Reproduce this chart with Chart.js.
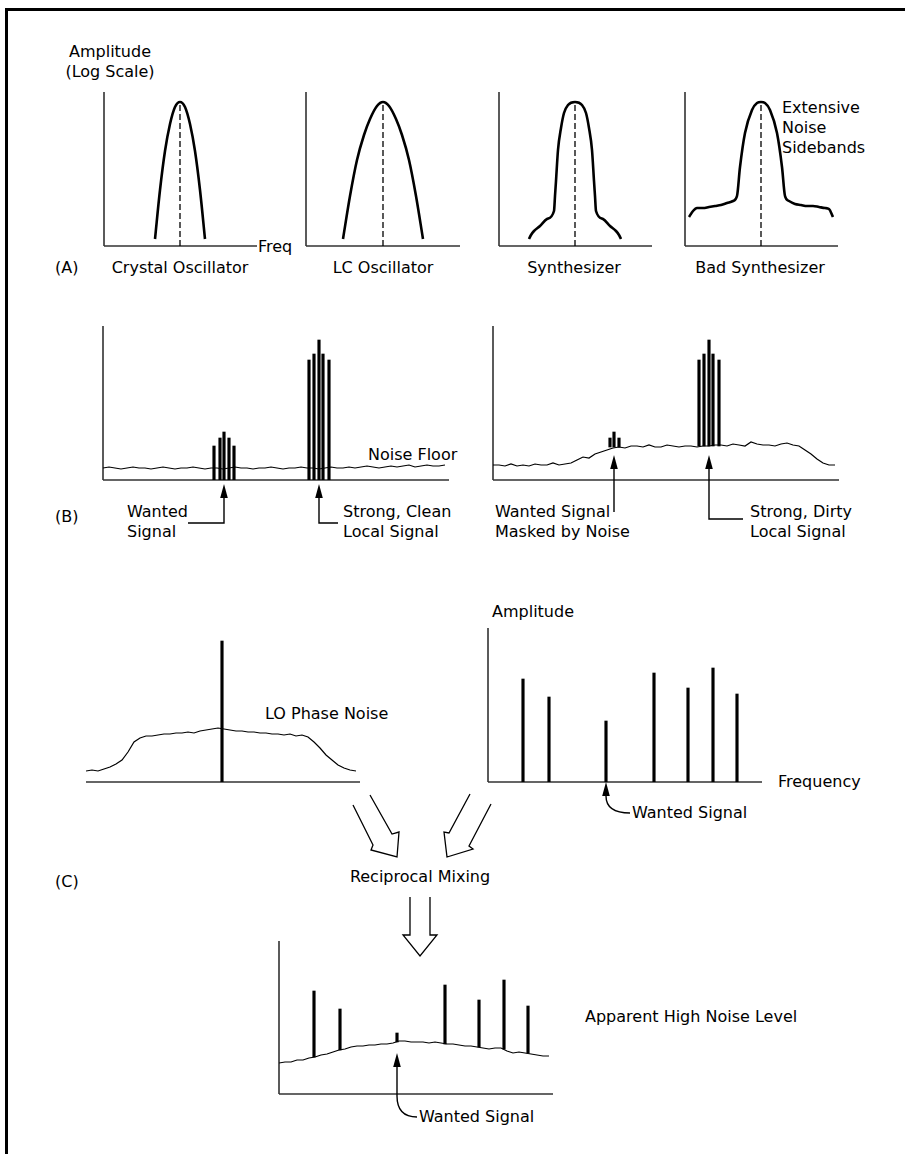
<!DOCTYPE html>
<html>
<head>
<meta charset="utf-8">
<script src="https://cdn.jsdelivr.net/npm/chart.js@4.4.0/dist/chart.umd.min.js"></script>
<style>
  body { margin: 0; background: #fff; }
  #page { position: relative; width: 905px; height: 1154px; overflow: hidden;
          font-family: "DejaVu Sans", sans-serif; font-size: 16px; color: #000; }
  #frame { position: absolute; left: 5px; top: 8px; right: 0; bottom: 0;
           border-top: 3px solid #000; border-left: 3px solid #000; }
  canvas { position: absolute; }
  .t { position: absolute; line-height: 20px; white-space: nowrap; }
  .c { transform: translateX(-50%); text-align: center; }
  svg { position: absolute; left: 0; top: 0; }
</style>
</head>
<body>
<div id="page">
  <div id="frame"></div>

  <!-- (A) -->
  <div class="t c" style="left:110px;top:42px">Amplitude<br>(Log Scale)</div>
  <div class="t" style="left:258px;top:237px">Freq</div>
  <div class="t" style="left:55px;top:258px">(A)</div>
  <div class="t c" style="left:180px;top:258px">Crystal Oscillator</div>
  <div class="t c" style="left:383px;top:258px">LC Oscillator</div>
  <div class="t c" style="left:574px;top:258px">Synthesizer</div>
  <div class="t c" style="left:760px;top:258px">Bad Synthesizer</div>
  <div class="t" style="left:782px;top:98px">Extensive<br>Noise<br>Sidebands</div>

  <!-- (B) -->
  <div class="t" style="left:368px;top:445px">Noise Floor</div>
  <div class="t" style="left:55px;top:507px">(B)</div>
  <div class="t" style="left:127px;top:502px">Wanted<br>Signal</div>
  <div class="t" style="left:343px;top:502px">Strong, Clean<br>Local Signal</div>
  <div class="t" style="left:495px;top:502px">Wanted Signal<br>Masked by Noise</div>
  <div class="t" style="left:750px;top:502px">Strong, Dirty<br>Local Signal</div>

  <!-- (C) -->
  <div class="t" style="left:265px;top:704px">LO Phase Noise</div>
  <div class="t" style="left:492px;top:602px">Amplitude</div>
  <div class="t" style="left:778px;top:772px">Frequency</div>
  <div class="t" style="left:632px;top:803px">Wanted Signal</div>
  <div class="t c" style="left:420px;top:867px">Reciprocal Mixing</div>
  <div class="t" style="left:55px;top:872px">(C)</div>
  <div class="t" style="left:585px;top:1007px">Apparent High Noise Level</div>
  <div class="t" style="left:419px;top:1107px">Wanted Signal</div>

  <svg width="905" height="1154">
    <g fill="#fff" stroke="#000" stroke-width="1.3" stroke-linejoin="miter">
      <polyline points="370,795 392,834 399,832 397,857 371,850 373,845 353,805"/>
      <polyline points="470,794 449,833 444,832 447,857 473,849 469,846 491,804"/>
      <polyline points="410,897 410,935 403,935 420,956 437,935 430,935 430,897"/>
    </g>
  </svg>
</div>

<script>
"use strict";

// ---- (A) oscillator spectra (frequency, log amplitude) ----
const crystalF = [51, 56, 61, 66, 71, 76, 81, 86, 91, 96, 101];
const crystalA = [7, 56, 95, 122, 139, 144, 139, 122, 95, 56, 7];
const lcF = [37, 44, 51, 58, 64, 71, 77, 83, 90, 96, 103, 110, 117];
const lcA = [7, 50, 86, 111, 127, 140, 144, 140, 127, 111, 86, 50, 7];
const synthF = [30, 32, 35, 41, 48, 55, 56, 57, 59, 62, 65, 69, 76, 83, 87, 90, 93, 95, 96, 97, 104, 111, 117, 120, 122];
const synthA = [7, 11, 15, 20, 27, 35, 50, 65, 96, 118, 133, 141, 144, 141, 133, 118, 96, 65, 50, 35, 27, 20, 15, 11, 7];
const badF = [4, 8, 12, 18, 24, 30, 36, 42, 48, 52, 55, 60, 67, 72, 76, 80, 85, 92, 97, 100, 104, 110, 116, 122, 128, 134, 140, 144, 148];
const badA = [29, 35, 38, 38, 39, 40, 41, 43, 45, 50, 79, 113, 136, 143, 144, 143, 136, 113, 79, 50, 45, 42, 41, 40, 40, 39, 38, 37, 29];
const carrierF = [76, 77, 76, 76];
const carrierPeak = 144;

// ---- (B) receiver spectrum, clean vs dirty LO ----
const noiseStep = 6;
const cleanNoise = [12, 13, 12, 11, 12, 13, 12, 12, 11, 12, 13, 12, 11, 12, 12, 13, 12, 11, 12, 12,
  11, 12, 13, 12, 12, 11, 12, 12, 13, 12, 11, 12, 12, 13, 12, 12, 11, 12, 13, 12,
  12, 13, 12, 13, 14, 13, 12, 13, 14, 13, 14, 15, 13, 14, 15, 14, 14, 15];
const dirtyNoise = [15, 15, 14, 16, 14, 15, 14, 16, 15, 15, 17, 15, 16, 17, 20, 23, 22, 26, 28, 30,
  32, 33, 32, 34, 34, 33, 35, 33, 33, 35, 34, 33, 34, 34, 33, 34, 34, 35, 35, 34,
  36, 35, 34, 38, 36, 35, 35, 34, 36, 37, 35, 34, 30, 26, 21, 17, 15, 15];
const wantedF = [111, 117, 121, 126, 131];
const wantedA = [34, 42, 48, 42, 34];
const strongF = [206, 211, 216, 220, 226];
const strongA = [120, 126, 140, 126, 120];
const dirtyWantedBase = 33;
const dirtyStrongBase = 34;

// ---- (C) reciprocal mixing ----
const loNoise = [11, 12, 11, 13, 15, 18, 22, 30, 40, 44, 46, 46, 47, 48, 48, 49, 49, 50, 49, 51,
  52, 53, 54, 53, 52, 51, 51, 50, 50, 49, 49, 48, 48, 47, 48, 46, 47, 45, 40, 34,
  27, 22, 17, 14, 12, 11];
const loCarrierF = 136;
const loCarrierA = 141;
const rfF = [35, 61, 118, 166, 200, 225, 249];
const rfA = [103, 85, 61, 109, 94, 114, 88];
const mixedNoise = [31, 32, 32, 34, 34, 36, 37, 39, 40, 42, 44, 45, 47, 48, 48, 49, 49, 50, 50, 51,
  53, 53, 52, 52, 52, 51, 52, 51, 50, 50, 49, 48, 48, 47, 46, 45, 46, 46, 43, 41,
  42, 41, 40, 39, 38, 38];
const mixedBase = [37, 44, 52, 50, 47, 45, 41];
const wantedIdx = 2;

const page = document.getElementById('page');

function pairs(xs, ys) { return xs.map((x, i) => ({ x: x, y: ys[i] })); }
function sampled(values) { return values.map((v, i) => ({ x: i * noiseStep, y: v })); }
function spikes(xs, tops, base) {
  return xs.map((x, i) => ({ x: x, y: [Array.isArray(base) ? base[i] : base, tops[i]] }));
}

function curve(data) {
  return { type: 'line', data: data, borderColor: '#000', borderWidth: 2.6, pointRadius: 0,
    cubicInterpolationMode: 'monotone', fill: false };
}
function noise(data) {
  return { type: 'line', data: data, borderColor: '#000', borderWidth: 1.2, pointRadius: 0,
    tension: 0, fill: false };
}
function dashed(x, top) {
  return { type: 'line', data: [{ x: x, y: 0 }, { x: x, y: top }], borderColor: '#000',
    borderWidth: 1.3, borderDash: [6, 3], pointRadius: 0 };
}
function bars(data) {
  return { type: 'bar', data: data, backgroundColor: '#000', barThickness: 2.5, borderWidth: 0 };
}

function drawArrow(chart, ar) {
  const xs = chart.scales.x, ys = chart.scales.y, ctx = chart.ctx;
  const p = ar.pts.map(q => [xs.getPixelForValue(q[0]), ys.getPixelForValue(q[1])]);
  const tx = p[0][0], ty = p[0][1];
  const L = Math.hypot(p[1][0] - tx, p[1][1] - ty);
  const ux = (p[1][0] - tx) / L, uy = (p[1][1] - ty) / L;
  const hl = 14, hw = 3.8;
  const hx = tx + ux * hl, hy = ty + uy * hl;
  ctx.save();
  ctx.fillStyle = '#000';
  ctx.strokeStyle = '#000';
  ctx.lineWidth = 1.4;
  ctx.beginPath();
  ctx.moveTo(tx, ty);
  ctx.lineTo(hx - uy * hw, hy + ux * hw);
  ctx.lineTo(hx + uy * hw, hy - ux * hw);
  ctx.closePath();
  ctx.fill();
  ctx.beginPath();
  ctx.moveTo(hx, hy);
  if (ar.curve) {
    ctx.lineTo(p[1][0], p[1][1]);
    ctx.quadraticCurveTo(p[2][0], p[2][1], p[3][0], p[3][1]);
  } else {
    for (let i = 1; i < p.length; i++) ctx.lineTo(p[i][0], p[i][1]);
  }
  ctx.stroke();
  ctx.restore();
}

function diagram(deco) {
  return {
    id: 'diagram',
    beforeDatasetsDraw(chart) {
      const ctx = chart.ctx, a = chart.chartArea;
      ctx.save();
      ctx.strokeStyle = '#333';
      ctx.lineWidth = 1.6;
      ctx.beginPath();
      if (deco.yAxis !== false) { ctx.moveTo(a.left, a.top); ctx.lineTo(a.left, a.bottom); }
      ctx.moveTo(a.left, a.bottom);
      ctx.lineTo(a.right, a.bottom);
      ctx.stroke();
      ctx.restore();
    },
    afterDatasetsDraw(chart) {
      (deco.arrows || []).forEach(ar => drawArrow(chart, ar));
    }
  };
}

function makeChart(box, datasets, deco) {
  deco = deco || {};
  const pad = { left: 12, top: 12, right: 12, bottom: deco.padBottom || 12 };
  const w = box.w + pad.left + pad.right, h = box.h + pad.top + pad.bottom;
  const cv = document.createElement('canvas');
  cv.width = w; cv.height = h;
  cv.style.left = (box.left - pad.left) + 'px';
  cv.style.top = (box.top - pad.top) + 'px';
  cv.style.width = w + 'px';
  cv.style.height = h + 'px';
  page.appendChild(cv);
  return new Chart(cv, {
    type: 'line',
    data: { datasets: datasets },
    options: {
      responsive: false,
      animation: false,
      events: [],
      layout: { padding: pad },
      plugins: { legend: { display: false }, tooltip: { enabled: false } },
      scales: {
        x: { type: 'linear', min: 0, max: box.w, offset: false, display: false },
        y: { type: 'linear', min: 0, max: box.h, display: false }
      }
    },
    plugins: [diagram(deco)]
  });
}

// (A)
makeChart({ left: 104, top: 92, w: 153, h: 154 },
  [curve(pairs(crystalF, crystalA)), dashed(carrierF[0], carrierPeak)]);
makeChart({ left: 306, top: 92, w: 154, h: 154 },
  [curve(pairs(lcF, lcA)), dashed(carrierF[1], carrierPeak)]);
makeChart({ left: 499, top: 92, w: 153, h: 154 },
  [curve(pairs(synthF, synthA)), dashed(carrierF[2], carrierPeak)]);
makeChart({ left: 685, top: 92, w: 153, h: 154 },
  [curve(pairs(badF, badA)), dashed(carrierF[3], carrierPeak)]);

// (B)
makeChart({ left: 103, top: 326, w: 346, h: 154 },
  [noise(sampled(cleanNoise)),
   bars(spikes(wantedF, wantedA, 0).concat(spikes(strongF, strongA, 0)))],
  { padBottom: 56, arrows: [
    { pts: [[wantedF[2], -4], [wantedF[2], -43], [85, -43]] },
    { pts: [[strongF[2], -4], [strongF[2], -43], [235, -43]] }
  ] });
makeChart({ left: 493, top: 326, w: 346, h: 154 },
  [noise(sampled(dirtyNoise)),
   bars(spikes(wantedF.slice(1, 4), wantedA.slice(1, 4), dirtyWantedBase)
     .concat(spikes(strongF, strongA, dirtyStrongBase)))],
  { padBottom: 56, arrows: [
    { pts: [[wantedF[2], 25], [wantedF[2], -32]] },
    { pts: [[strongF[2], 25], [strongF[2], -39], [250, -39]] }
  ] });

// (C)
makeChart({ left: 86, top: 628, w: 274, h: 154 },
  [noise(sampled(loNoise)), bars(spikes([loCarrierF], [loCarrierA], 0))],
  { yAxis: false });
makeChart({ left: 488, top: 628, w: 274, h: 154 },
  [bars(spikes(rfF, rfA, 0))],
  { padBottom: 40, arrows: [
    { curve: true, pts: [[rfF[wantedIdx], 0], [rfF[wantedIdx], -14], [rfF[wantedIdx], -31], [142, -31]] }
  ] });
makeChart({ left: 279, top: 941, w: 274, h: 153 },
  [noise(sampled(mixedNoise)), bars(spikes(rfF, rfA, mixedBase))],
  { padBottom: 36, arrows: [
    { curve: true, pts: [[rfF[wantedIdx], 41], [rfF[wantedIdx], -2], [rfF[wantedIdx], -23], [138, -23]] }
  ] });
</script>
</body>
</html>
